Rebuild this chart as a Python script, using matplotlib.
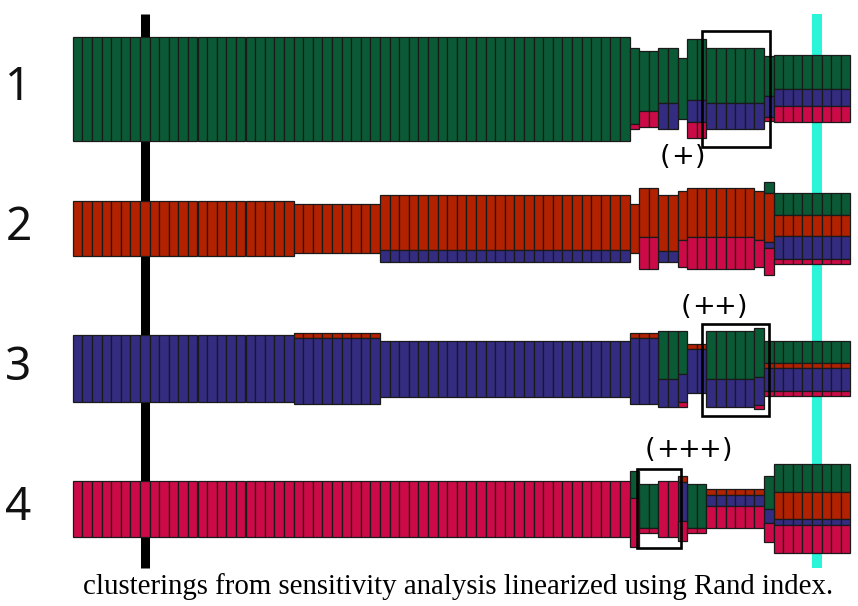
import numpy as np
import matplotlib
matplotlib.use("Agg")
import matplotlib.pyplot as plt
from matplotlib.patches import Rectangle

# ---------------- data ----------------
# each row: runs of columns -> (number of columns, green, red, blue, pink)
row_labels = ["1", "2", "3", "4"]
layer_names = ["green", "red", "blue", "pink"]
layer_colors = ["#0a5a35", "#b22200", "#332c80", "#cc0a48"]

row1_runs = [
    (58, 104.0, 0, 0, 0),
    (1, 76.6, 0, 0, 5.0),
    (2, 60.3, 0, 0, 15.7),
    (2, 55.0, 0, 26.6, 0),
    (1, 61.0, 0, 0, 0),
    (2, 60.7, 0, 21.7, 16.0),
    (6, 55.0, 0, 26.6, 0),
    (1, 40.0, 0, 21.7, 4.3),
    (8, 34.0, 0, 16.7, 16.0),
]
row2_runs = [
    (23, 0, 55.0, 0, 0),
    (9, 0, 49.3, 0, 0),
    (26, 0, 55.0, 11.7, 0),
    (1, 0, 49.3, 0, 0),
    (2, 0, 49.0, 0, 32.6),
    (2, 0, 56.0, 10.7, 0),
    (1, 0, 49.3, 0, 26.7),
    (7, 0, 49.0, 0, 32.6),
    (1, 0, 49.3, 0, 26.7),
    (1, 11.0, 49.0, 5.4, 27.3),
    (8, 21.7, 21.7, 22.6, 5.0),
]
row3_runs = [
    (23, 0, 0, 66.7, 0),
    (9, 0, 5.0, 66.0, 0),
    (26, 0, 0, 56.0, 0),
    (3, 0, 5.0, 66.3, 0),
    (2, 48.6, 0, 27.4, 0),
    (1, 43.6, 0, 27.4, 5.0),
    (2, 0, 5.0, 43.7, 0),
    (5, 48.6, 0, 27.4, 0),
    (1, 49.6, 0, 27.7, 4.3),
    (9, 22.6, 5.0, 22.7, 5.0),
]
row4_runs = [
    (58, 0, 0, 0, 56.0),
    (1, 27.6, 0, 0, 48.4),
    (2, 44.3, 0, 0, 4.4),
    (2, 0, 0, 0, 56.0),
    (1, 0, 5.7, 39.3, 20.0),
    (2, 44.3, 0, 0, 4.4),
    (6, 0, 5.7, 11.0, 21.7),
    (1, 33.3, 0, 14.3, 18.4),
    (8, 28.0, 27.0, 5.7, 27.7),
]
rows_runs = [row1_runs, row2_runs, row3_runs, row4_runs]

# highlighted boxes: (row index, first column, last column edge, label)
box_rows = [0, 2, 3]
box_col_start = [65.6, 65.5, 58.75]
box_col_end = [72.6, 72.5, 63.4]
box_labels = ["(+)", "(++)", "(+++)"]

caption = "clusterings from sensitivity analysis linearized using Rand index."

# ---------------- layout ----------------
W, H = 858, 606
PX0, CW = 72.7, 9.6          # pixel x of first column edge, column width in px
ROW_Y0, ROW_STEP = 88.5, 140.0

fig = plt.figure(figsize=(W / 100, H / 100), dpi=100)
ax = fig.add_axes([0, 0, 1, 1])
ax.axis("off")
ax.set_xlim(-PX0 / CW, (W - PX0) / CW)
ax.set_ylim(H, 0)

n_cols = sum(r[0] for r in row1_runs)
cols = np.arange(n_cols)

# reference vertical lines (behind the bars)
ax.vlines([(144.5 - PX0) / CW], 14, 568, color="black", linewidth=6.5, zorder=1)
ax.vlines([(816.7 - PX0) / CW], 14, 568, color="#2af5d9", linewidth=7.2, zorder=1)

for r, runs in enumerate(rows_runs):
    counts = [run[0] for run in runs]
    layers = np.array([np.repeat([run[k + 1] for run in runs], counts) for k in range(4)])
    total = layers.sum(axis=0)
    center = ROW_Y0 + r * ROW_STEP
    top = center - total / 2
    for k in range(4):
        h = layers[k]
        m = h > 0
        if m.any():
            ax.bar(cols[m], h[m], width=1, bottom=top[m], align="edge",
                   color=layer_colors[k], edgecolor="#1a1a1a", linewidth=0.9, zorder=2)
        top = top + h
    ax.text((18.5 - PX0) / CW, center, row_labels[r], fontsize=33, family="Noto Sans",
            ha="center", va="center", color="#111111")

# boxes and their labels
box_y = [(30.7, 146.7), (324.0, 416.0), (469.3, 548.3)]
label_pos = [(682.5, 157), (714.2, 306.5), (688.3, 450)]
GAP_PAREN, GAP_PLUS = 17.5, 21.0
for i in range(len(box_rows)):
    y0, y1 = box_y[i]
    ax.add_patch(Rectangle((box_col_start[i], y0), box_col_end[i] - box_col_start[i], y1 - y0,
                           fill=False, edgecolor="black", linewidth=1.9, zorder=3))
    lx, ly = label_pos[i]
    lab = box_labels[i]
    xs = [0.0]
    for j in range(1, len(lab)):
        gap = GAP_PLUS if (lab[j] == "+" and lab[j - 1] == "+") else GAP_PAREN
        xs.append(xs[-1] + gap)
    shift = lx - xs[-1] / 2
    for ch, cx in zip(lab, xs):
        ax.text((cx + shift - PX0) / CW, ly, ch, fontsize=19.5, family="DejaVu Sans",
                ha="center", va="center", color="black", zorder=4)

fig.text(458 / W, 1 - 594 / H, caption, fontsize=20.8, family="Liberation Serif",
         ha="center", va="baseline", color="black")

fig.savefig("out.png", dpi=100)
